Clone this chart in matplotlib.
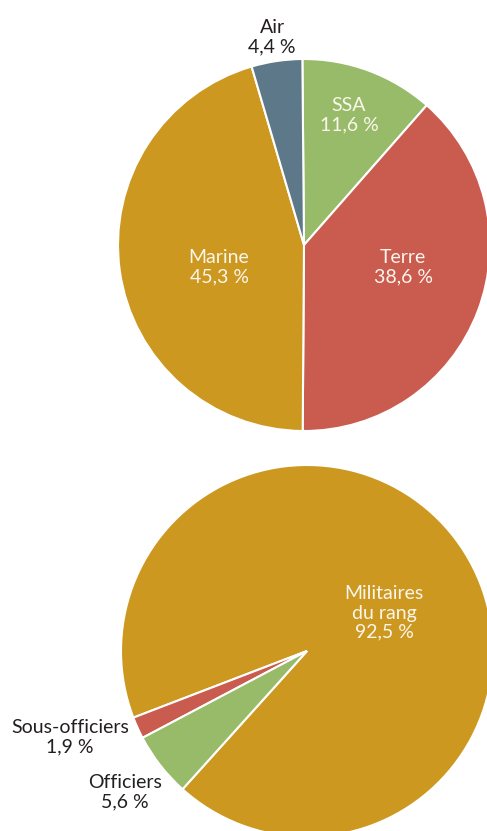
import matplotlib
matplotlib.use("Agg")
import matplotlib.pyplot as plt

# Data
top_labels = ["SSA", "Terre", "Marine", "Air"]
top_values = [11.6, 38.6, 45.3, 4.4]
top_text = ["11,6 %", "38,6 %", "45,3 %", "4,4 %"]

bottom_labels = ["Militaires\ndu rang", "Sous-officiers", "Officiers"]
bottom_values = [92.5, 1.9, 5.6]
bottom_text = ["92,5 %", "1,9 %", "5,6 %"]

GOLD = "#CD9820"
RED = "#C95B4F"
GREEN = "#98BB69"
SLATE = "#5D7989"
LIGHT = "#FBF6EC"
DARK = "#231F20"

top_colors = [GREEN, RED, GOLD, SLATE]
bottom_colors = [GOLD, RED, GREEN]

W, H = 487, 831
fig = plt.figure(figsize=(W / 100, H / 100), dpi=100)
ax = fig.add_axes([0, 0, 1, 1])

def py(y):
    return H - y

FONT = ["Lato", "DejaVu Sans"]
FS = 14

ax.pie(top_values, colors=top_colors, startangle=90.5, counterclock=False,
       center=(304, py(245)), radius=186, frame=True,
       wedgeprops=dict(edgecolor="white", linewidth=1.5))
ax.pie(bottom_values, colors=bottom_colors, startangle=228, counterclock=True,
       center=(307, py(651)), radius=186, frame=True,
       wedgeprops=dict(edgecolor="white", linewidth=1.5))
ax.set_xlim(0, W)
ax.set_ylim(0, H)
ax.set_aspect("equal")
ax.axis("off")

top_pos = [(349, 115, LIGHT), (403, 267, LIGHT), (219, 267, LIGHT), (272, 37, DARK)]
for lab, txt, (x, y, c) in zip(top_labels, top_text, top_pos):
    ax.text(x, py(y), f"{lab}\n{txt}", ha="center", va="center", color=c,
            fontsize=FS, family=FONT, linespacing=1.15, multialignment="center")

bottom_pos = [(384, 613, LIGHT), (70, 737, DARK), (125, 792, DARK)]
for lab, txt, (x, y, c) in zip(bottom_labels, bottom_text, bottom_pos):
    ax.text(x, py(y), f"{lab}\n{txt}", ha="center", va="center", color=c,
            fontsize=FS, family=FONT, linespacing=1.15, multialignment="center")

fig.savefig("out.png", dpi=100, facecolor="white")
